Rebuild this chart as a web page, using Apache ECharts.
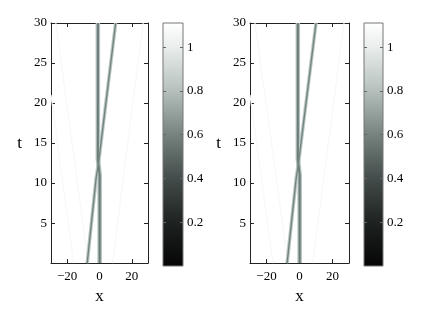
<!DOCTYPE html>
<html>
<head>
<meta charset="utf-8">
<script src="https://cdn.jsdelivr.net/npm/echarts@6/dist/echarts.min.js"></script>
<style>html,body{margin:0;padding:0;background:#fff;}#c{width:436px;height:310px;}</style>
</head>
<body>
<div id="c"></div>
<script>
// ---- data ----
const xTicks = [-20, 0, 20];
const tTicks = [5, 10, 15, 20, 25, 30];
const cbTicks = [0.2, 0.4, 0.6, 0.8, 1];
const cbStopValues = [0, 0.2, 0.4, 0.6, 0.8, 1.0, 1.11];
const cbStopColors = ['#050505', '#1e2221', '#434c4a', '#76837f', '#b5c0bd', '#eaeeed', '#ffffff'];
// panel 1 trajectories [x, t]
const p1Stationary = [[0.1, 0], [0.1, 11], [-1.0, 13], [-1.0, 30]];
const p1Moving = [[-7.6, 0], [-2.1, 10.6], [-0.6, 12.5], [10.0, 30]];
const p1FaintLeft = [[-27, 30], [-7, 0]];
const p1FaintLeft2 = [[-30, 21], [-16, 0]];
const p1FaintRight = [[27, 30], [8, 0]];
// panel 2 trajectories [x, t]
const p2Stationary = [[0.1, 0], [0.1, 11], [-1.0, 13], [-1.0, 30]];
const p2Moving = [[-7.5, 0], [-2.0, 10.6], [-0.6, 12.5], [10.0, 30]];
const p2FaintLeft = [[-27, 30], [-7, 0]];
const p2FaintLeft2 = [[-30, 21], [-16, 0]];
const p2FaintRight = [[27, 30], [8, 0]];

const FONT = "'Liberation Serif', 'Times New Roman', serif";
const fmt = v => String(v).replace('-', '\u2212');
const axisCol = '#222';

const cbGradient = () => ({type: 'linear', x: 0, y: 1, x2: 0, y2: 0,
  colorStops: cbStopValues.map((v, i) => ({offset: v / 1.11, color: cbStopColors[i]}))});

const grids = [
  {left: 51, top: 23, width: 97, height: 243},
  {left: 163, top: 23, width: 20, height: 243, show: true, borderColor: '#777', borderWidth: 1, backgroundColor: cbGradient()},
  {left: 250, top: 23, width: 99, height: 243},
  {left: 364, top: 23, width: 19, height: 243, show: true, borderColor: '#777', borderWidth: 1, backgroundColor: cbGradient()}
];

const xAxes = [], yAxes = [], series = [];

function plotAxes(g) {
  const base = {type: 'value', gridIndex: g, min: -30, max: 30, splitLine: {show: false},
    axisLine: {onZero: false, lineStyle: {color: axisCol, width: 1}},
    axisTick: {inside: true, length: 4, customValues: xTicks, lineStyle: {color: axisCol}}};
  xAxes.push(Object.assign({}, base, {position: 'bottom', name: 'x', nameLocation: 'middle', nameGap: 20,
    nameTextStyle: {fontFamily: FONT, fontSize: 17, color: '#000'},
    axisLabel: {customValues: xTicks, formatter: fmt, fontFamily: FONT, fontSize: 13, color: '#000', margin: 7}}));
  xAxes.push(Object.assign({}, base, {position: 'top', axisLabel: {show: false}}));
  const ybase = {type: 'value', gridIndex: g, min: 0, max: 30, interval: 5, splitLine: {show: false},
    axisLine: {onZero: false, lineStyle: {color: axisCol, width: 1}},
    axisTick: {inside: true, length: 4, lineStyle: {color: axisCol}}};
  yAxes.push(Object.assign({}, ybase, {position: 'left', name: 't', nameLocation: 'middle', nameGap: 29, nameRotate: 0,
    nameTextStyle: {fontFamily: FONT, fontSize: 17, color: '#000'},
    axisLabel: {showMinLabel: false, fontFamily: FONT, fontSize: 13, color: '#000', margin: 4}}));
  yAxes.push(Object.assign({}, ybase, {position: 'right', axisLabel: {show: false}}));
}
function cbAxes(g) {
  xAxes.push({type: 'value', gridIndex: g, min: 0, max: 1, show: false});
  const ybase = {type: 'value', gridIndex: g, min: 0, max: 1.11, splitLine: {show: false},
    axisLine: {show: false, onZero: false},
    axisTick: {inside: true, length: 3, customValues: cbTicks, lineStyle: {color: '#666'}}};
  yAxes.push(Object.assign({}, ybase, {position: 'right',
    axisLabel: {customValues: cbTicks, formatter: v => String(v), fontFamily: FONT, fontSize: 13, color: '#000', margin: 4}}));
  yAxes.push(Object.assign({}, ybase, {position: 'left', axisLabel: {show: false}}));
}

function addLine(xi, yi, data, color, width, z) {
  series.push({type: 'line', xAxisIndex: xi, yAxisIndex: yi, data: data, showSymbol: false, symbol: 'none',
    lineStyle: {color: color, width: width}, z: z, animation: false, silent: true});
}
function panelSeries(xi, yi, stat, mov, fl, fl2, fr) {
  addLine(xi, yi, fl, '#f6f7f7', 1.2, 1);
  addLine(xi, yi, fl2, '#f8f8f8', 1.2, 1);
  addLine(xi, yi, fr, '#f7f7f7', 1.2, 1);
  addLine(xi, yi, stat, '#b3c0bd', 4.5, 2);
  addLine(xi, yi, stat, '#6a7b78', 2, 3);
  addLine(xi, yi, mov, '#bcc8c5', 3.5, 2);
  addLine(xi, yi, mov, '#73847f', 1.4, 3);
}

plotAxes(0);   // x 0,1  y 0,1
cbAxes(1);     // x 2    y 2,3
plotAxes(2);   // x 3,4  y 4,5
cbAxes(3);     // x 5    y 6,7
panelSeries(0, 0, p1Stationary, p1Moving, p1FaintLeft, p1FaintLeft2, p1FaintRight);
panelSeries(3, 4, p2Stationary, p2Moving, p2FaintLeft, p2FaintLeft2, p2FaintRight);

const chart = echarts.init(document.getElementById('c'), null, {renderer: 'canvas'});
chart.setOption({animation: false, grid: grids, xAxis: xAxes, yAxis: yAxes, series: series});
</script>
</body>
</html>
